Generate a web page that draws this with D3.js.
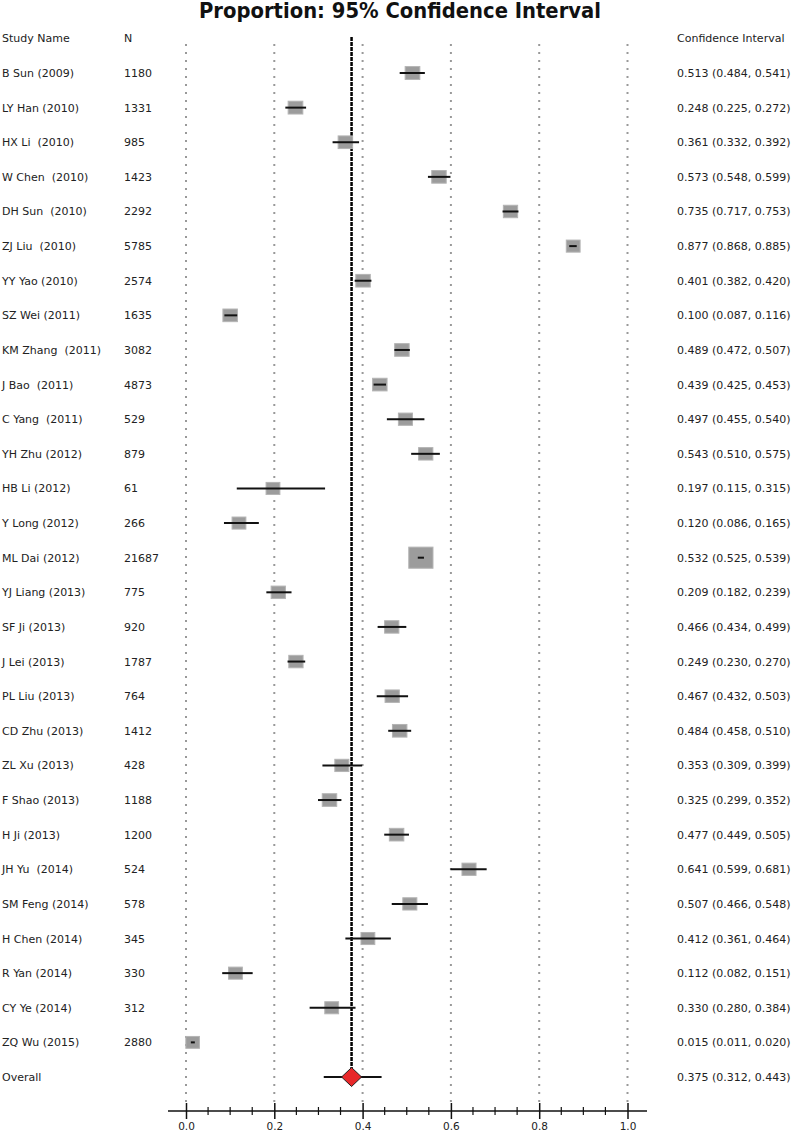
<!DOCTYPE html>
<html><head><meta charset="utf-8">
<script src="https://cdn.jsdelivr.net/npm/d3@7"></script>
<style>body{margin:0;background:#fff}svg{display:block}text{font-family:"DejaVu Sans",Arial,sans-serif}</style>
</head><body>
<svg id="c" width="800" height="1136"></svg>
<script>
const studies = ["B Sun (2009)","LY Han (2010)","HX Li  (2010)","W Chen  (2010)","DH Sun  (2010)","ZJ Liu  (2010)","YY Yao (2010)","SZ Wei (2011)","KM Zhang  (2011)","J Bao  (2011)","C Yang  (2011)","YH Zhu (2012)","HB Li (2012)","Y Long (2012)","ML Dai (2012)","YJ Liang (2013)","SF Ji (2013)","J Lei (2013)","PL Liu (2013)","CD Zhu (2013)","ZL Xu (2013)","F Shao (2013)","H Ji (2013)","JH Yu  (2014)","SM Feng (2014)","H Chen (2014)","R Yan (2014)","CY Ye (2014)","ZQ Wu (2015)"];
const sampleN = [1180,1331,985,1423,2292,5785,2574,1635,3082,4873,529,879,61,266,21687,775,920,1787,764,1412,428,1188,1200,524,578,345,330,312,2880];
const estimate = [0.513,0.248,0.361,0.573,0.735,0.877,0.401,0.100,0.489,0.439,0.497,0.543,0.197,0.120,0.532,0.209,0.466,0.249,0.467,0.484,0.353,0.325,0.477,0.641,0.507,0.412,0.112,0.330,0.015];
const lower = [0.484,0.225,0.332,0.548,0.717,0.868,0.382,0.087,0.472,0.425,0.455,0.510,0.115,0.086,0.525,0.182,0.434,0.230,0.432,0.458,0.309,0.299,0.449,0.599,0.466,0.361,0.082,0.280,0.011];
const upper = [0.541,0.272,0.392,0.599,0.753,0.885,0.420,0.116,0.507,0.453,0.540,0.575,0.315,0.165,0.539,0.239,0.499,0.270,0.503,0.510,0.399,0.352,0.505,0.681,0.548,0.464,0.151,0.384,0.020];
const weight = [3.5,3.5,3.4,3.4,3.3,3.1,3.4,3.4,3.4,3.4,3.2,3.3,3.1,3.1,9.5,3.3,3.3,3.3,3.3,3.4,3.2,3.4,3.4,3.2,3.2,3.1,3.1,3.1,3.0];
const overall = {label:"Overall", est:0.375, lo:0.312, hi:0.443};
const tickValues = [0,0.2,0.4,0.6,0.8,1.0];
const fmt = d3.format(".3f");

const svg = d3.select("#c");
const x = d3.scaleLinear().domain([0,1]).range([186,627.5]);
const y = d3.scalePoint().domain(d3.range(studies.length+1)).range([73,1077]);
const size = d3.scaleSqrt().domain([0,d3.max(weight)]).range([0,22]);
const FS = 11, TXT = "#222";

svg.append("text").attr("x",400).attr("y",18).attr("text-anchor","middle")
  .attr("font-family","Liberation Sans,Arial,sans-serif")
  .attr("font-size",21).attr("font-weight","bold").attr("fill","#111")
  .attr("textLength",402).attr("lengthAdjust","spacingAndGlyphs")
  .text("Proportion: 95% Confidence Interval");

// grid lines
svg.append("g").selectAll("line").data(tickValues).join("line")
  .attr("x1",d=>x(d)).attr("x2",d=>x(d)).attr("y1",44).attr("y2",1106)
  .attr("stroke","#999").attr("stroke-width",2).attr("stroke-dasharray","2,6");

// headers
const hdr = svg.append("g").attr("font-size",FS).attr("fill",TXT);
hdr.append("text").attr("x",2).attr("y",42).text("Study Name");
hdr.append("text").attr("x",124).attr("y",42).text("N");
hdr.append("text").attr("x",677).attr("y",42).text("Confidence Interval");

// overall line
svg.append("line").attr("x1",x(overall.est)).attr("x2",x(overall.est)).attr("y1",37).attr("y2",y(studies.length))
  .attr("stroke","#000").attr("stroke-width",2.5).attr("stroke-dasharray","4,1");

const rowsG = svg.append("g").selectAll("g.row").data(studies).join("g").attr("class","row");
rowsG.append("text").attr("x",2).attr("y",(d,i)=>y(i)+4).attr("font-size",FS).attr("fill",TXT)
  .style("white-space","pre").text(d=>d);
rowsG.append("text").attr("x",124).attr("y",(d,i)=>y(i)+4).attr("font-size",FS).attr("fill",TXT).text((d,i)=>sampleN[i]);
rowsG.append("text").attr("x",677).attr("y",(d,i)=>y(i)+4).attr("font-size",FS).attr("fill",TXT)
  .text((d,i)=>`${fmt(estimate[i])} (${fmt(lower[i])}, ${fmt(upper[i])})`);
rowsG.append("rect")
  .attr("x",(d,i)=>x(estimate[i])-size(weight[i])*0.55)
  .attr("y",(d,i)=>y(i)-size(weight[i])*0.48)
  .attr("width",(d,i)=>size(weight[i])*1.1)
  .attr("height",(d,i)=>size(weight[i])*0.96)
  .attr("fill","#9c9c9c").attr("stroke","#b4b4b4").attr("stroke-width",1);
rowsG.append("line").attr("x1",(d,i)=>x(lower[i])).attr("x2",(d,i)=>x(upper[i]))
  .attr("y1",(d,i)=>y(i)).attr("y2",(d,i)=>y(i)).attr("stroke","#111").attr("stroke-width",2);

// overall
const oy = y(studies.length);
svg.append("text").attr("x",2).attr("y",oy+4).attr("font-size",FS).attr("fill",TXT).text(overall.label);
svg.append("text").attr("x",677).attr("y",oy+4).attr("font-size",FS).attr("fill",TXT)
  .text(`${fmt(overall.est)} (${fmt(overall.lo)}, ${fmt(overall.hi)})`);
svg.append("line").attr("x1",x(overall.lo)).attr("x2",x(overall.hi)).attr("y1",oy).attr("y2",oy).attr("stroke","#111").attr("stroke-width",2);
const cx = x(overall.est);
svg.append("path").attr("d",`M${cx-10},${oy} L${cx},${oy-9.5} L${cx+10},${oy} L${cx},${oy+9.5} Z`)
  .attr("fill","#e8282a").attr("stroke","#222").attr("stroke-width",1);

// axis
const axG = svg.append("g").attr("transform","translate(0,1111)");
axG.append("line").attr("x1",168).attr("x2",647).attr("stroke","#111").attr("stroke-width",1.5);
const minor = d3.range(0,1.0001,0.05).filter(v=>Math.abs(Math.round(v*5)-v*5)>1e-6);
axG.selectAll("line.minor").data(minor).join("line").attr("class","minor")
  .attr("x1",d=>x(d)).attr("x2",d=>x(d)).attr("y1",-4).attr("y2",4).attr("stroke","#111").attr("stroke-width",1.2);
const axis = d3.axisBottom(x).tickValues(tickValues).tickFormat(d3.format(".1f")).tickSize(8).tickSizeOuter(0);
const ax = axG.append("g").call(axis);
ax.select(".domain").remove();
ax.selectAll(".tick line").attr("y1",-8).attr("y2",8).attr("stroke","#111").attr("stroke-width",1.5);
ax.selectAll(".tick text").attr("y",12).attr("font-size",10.5).attr("fill",TXT).attr("font-family","DejaVu Sans,Arial,sans-serif");
</script>
</body></html>
